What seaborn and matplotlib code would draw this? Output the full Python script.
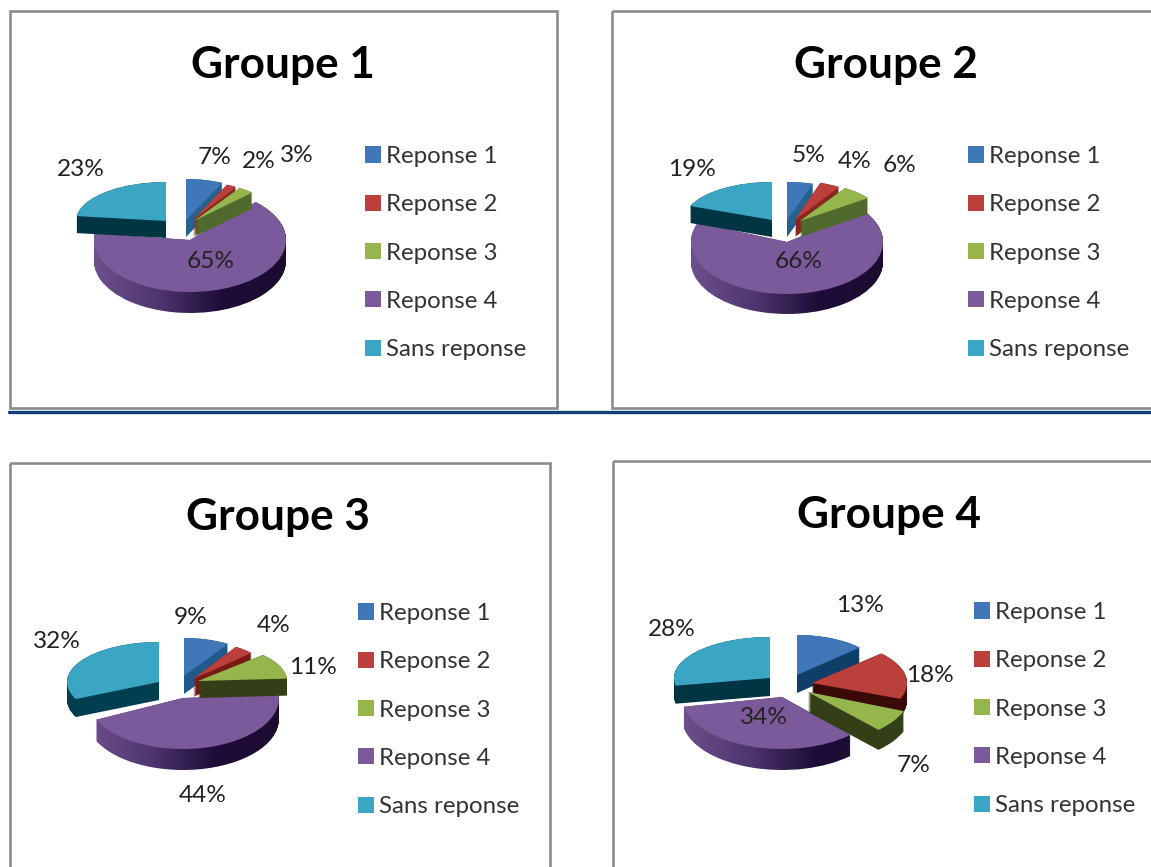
"""Four exploded 3D-look pie charts, one per group."""

import matplotlib

matplotlib.use("Agg")

import matplotlib.pyplot as plt
import numpy as np
import seaborn as sns
from matplotlib.colors import LinearSegmentedColormap
from matplotlib.patches import Patch, PathPatch, Rectangle
from matplotlib.path import Path
from matplotlib.transforms import Affine2D

WIDTH, HEIGHT = 1151, 867

categories = ["Reponse 1", "Reponse 2", "Reponse 3", "Reponse 4", "Sans reponse"]
titles = ["Groupe 1", "Groupe 2", "Groupe 3", "Groupe 4"]
groupe_1 = [7, 2, 3, 65, 23]
groupe_2 = [5, 4, 6, 66, 19]
groupe_3 = [9, 4, 11, 44, 32]
groupe_4 = [13, 18, 7, 34, 28]
groups = [groupe_1, groupe_2, groupe_3, groupe_4]

top_colors = sns.color_palette(["#3f77b9", "#bb403c", "#95b64d", "#7a5a9a", "#3ba6c3"])
wall_colors = [
    ["#25628f", "#8a2620", "#4f6a2c", "#000000", "#003644"],
    ["#25628f", "#8a2620", "#4f6a2c", "#000000", "#003644"],
    ["#1f5a8a", "#7a1a14", "#343f18", "#000000", "#003f50"],
    ["#0f3f69", "#3b0a08", "#343f18", "#000000", "#003644"],
]
purple_wall = LinearSegmentedColormap.from_list(
    "purple_wall", ["#6d4f8c", "#4f3670", "#1e0c38", "#1c0c30"]
)

# layout in pixels: title centre, label centres, legend corner, frame
frames = [(10, 11, 547, 397), (612, 11, 600, 397), (10, 463, 540, 500), (613, 461, 600, 500)]
title_xy = [(283, 65), (886, 65), (278, 517), (889, 515)]
legend_xy = [(365, 155), (968, 155), (358, 612), (974, 611)]
label_xy = [
    [(215, 158), (259, 162), (297, 156), (211, 261), (81, 170)],
    [(809, 156), (855, 161), (900, 166), (799, 262), (692, 169)],
    [(191, 618), (274, 625), (313, 667), (203, 795), (57, 642)],
    [(860, 605), (930, 676), (914, 765), (764, 718), (672, 630)],
]
# per slice: apex x, apex y, radius x, radius y, wall depth
slice_layout = [
    [(186, 220, 85, 41, 17), (193, 220, 80, 39, 17), (194, 221, 85, 39, 16),
     (190, 240, 96, 52, 21), (166, 221, 90, 39, 17)],
    [(787, 220, 84, 38, 17), (795, 220, 82, 39, 17), (800, 221, 84, 39, 16),
     (787, 242, 96, 52, 20), (772, 220, 88, 38, 17)],
    [(184, 676, 82, 38, 18), (193, 679, 80, 38, 18), (198, 681, 89, 38, 17),
     (183, 698, 96, 51, 21), (159, 682, 92, 40, 18)],
    [(797, 675, 86, 40, 18), (812, 683, 95, 43, 18), (808, 692, 103, 52, 20),
     (782, 697, 100, 52, 21), (770, 678, 96, 41, 18)],
]
# purple first, then the detached slices on top of it
draw_order = [3, 4, 0, 1, 2]

sns.set_theme(style="white")
plt.rcParams["font.family"] = ["Lato", "DejaVu Sans"]

figure = plt.figure(figsize=(WIDTH / 100, HEIGHT / 100), dpi=100)
axis = figure.add_axes([0, 0, 1, 1])


def draw_pie(values, layout, walls):
    wedges, _ = axis.pie(
        values, colors=top_colors, startangle=90, counterclock=False, wedgeprops={"linewidth": 0}
    )
    for rank, index in enumerate(draw_order):
        wedge = wedges[index]
        x, y, rx, ry, depth = layout[index]
        base = wedge.get_path()
        steps = [
            base.transformed(Affine2D().scale(rx, -ry).translate(x, y + offset))
            for offset in range(depth + 1)
        ]
        wall_path = Path.make_compound_path(*steps)
        if index == 3:
            shade = np.linspace(0, 1, 256).reshape(1, -1)
            image = axis.imshow(
                shade,
                cmap=purple_wall,
                extent=(x - rx, x + rx, y + ry + depth + 2, y - ry),
                aspect="auto",
                zorder=2 + rank * 2,
            )
            image.set_clip_path(wall_path, transform=axis.transData)
        else:
            axis.add_patch(
                PathPatch(wall_path, facecolor=walls[index], edgecolor="none", zorder=2 + rank * 2)
            )
        wedge.set_transform(Affine2D().scale(rx, -ry).translate(x, y) + axis.transData)
        wedge.set_zorder(3 + rank * 2)


for position, values in enumerate(groups):
    x0, y0, w, h = frames[position]
    axis.add_patch(Rectangle((x0, y0), w, h, fill=False, edgecolor="#8c8c8c", linewidth=1.9, zorder=1))
    draw_pie(values, slice_layout[position], wall_colors[position])
    axis.text(*title_xy[position], titles[position], fontsize=31.8, fontweight="bold",
              color="black", ha="center", va="center", zorder=30)
    for value, (tx, ty) in zip(values, label_xy[position]):
        axis.text(tx, ty, f"{value}%", fontsize=17.6, color="#222222",
                  ha="center", va="center", zorder=30)
    lx, ly = legend_xy[position]
    handles = [Patch(facecolor=color, edgecolor="none") for color in top_colors]
    figure.legend(
        handles,
        categories,
        loc="upper left",
        bbox_to_anchor=(lx, ly - 9),
        bbox_transform=axis.transData,
        frameon=False,
        fontsize=17.3,
        labelcolor="#333333",
        labelspacing=1.135,
        handlelength=0.66,
        handleheight=0.66,
        handletextpad=0.22,
        borderpad=0,
        borderaxespad=0,
    )

axis.plot([9, WIDTH], [412, 412], color="#124074", linewidth=2.4, zorder=20)
axis.set_aspect("auto")
axis.set_xlim(0, WIDTH)
axis.set_ylim(HEIGHT, 0)
axis.axis("off")

figure.savefig("out.png", dpi=100)
